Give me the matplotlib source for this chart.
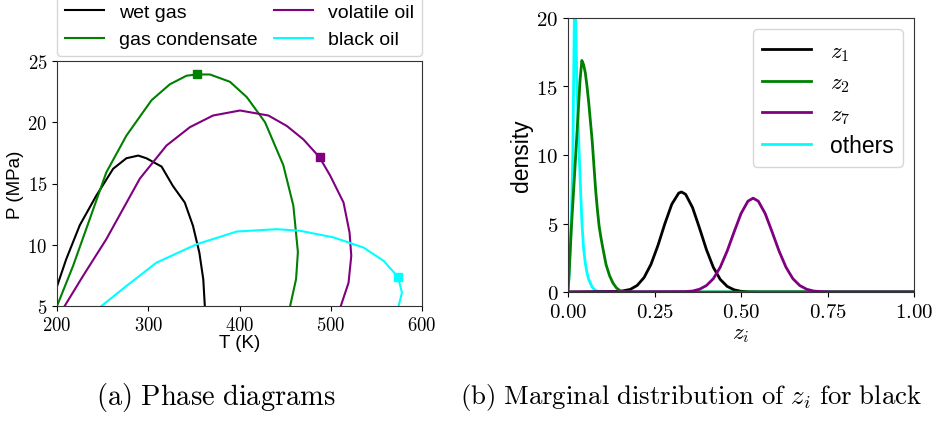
import matplotlib
matplotlib.use("Agg")
import matplotlib.pyplot as plt

plt.rcParams['mathtext.fontset'] = 'cm'
plt.rcParams['font.family'] = ['Liberation Sans', 'DejaVu Sans']

# ---------------- (a) phase diagrams ----------------
wet_T = [200, 210, 225, 243, 261.5, 276, 289, 298, 314.6, 327, 340, 349, 356, 360.3, 362]
wet_P = [6.6, 8.8, 11.6, 14.0, 16.2, 17.06, 17.28, 17.06, 16.38, 14.8, 13.45, 11.55, 9.36, 7.18, 5.0]

cond_T = [200, 217.6, 235.9, 254, 276, 303.6, 323.7, 342, 353, 367.6, 389.6, 408, 428, 448, 459, 464, 462, 455.5]
cond_P = [5.0, 8.27, 12.1, 15.9, 18.9, 21.8, 23.1, 23.8, 23.9, 23.9, 23.3, 22.05, 20.0, 16.5, 13.2, 9.4, 7.2, 5.0]

vol_T = [208.4, 228.5, 254, 290.8, 320, 345.7, 371, 400.6, 431.7, 451.8, 470, 487.7, 499.4, 514, 520.6, 522.5, 519.5, 511]
vol_P = [5.0, 7.45, 10.45, 15.4, 18.1, 19.6, 20.55, 20.96, 20.55, 19.7, 18.6, 17.14, 15.64, 13.45, 11.0, 9.1, 6.9, 5.0]

blk_T = [248.7, 276, 309, 353, 397, 440.8, 466.4, 503, 536, 558, 573.7, 578, 574.4]
blk_P = [5.0, 6.63, 8.54, 10.04, 11.08, 11.27, 11.14, 10.6, 9.77, 8.68, 7.37, 6.09, 5.0]

crit_T = [353, 487.7, 573.7]
crit_P = [23.9, 17.14, 7.37]
crit_colors = ['green', 'purple', 'cyan']

a_xticks = [200, 300, 400, 500, 600]
a_yticks = [5, 10, 15, 20, 25]

# ---------------- (b) marginal densities ----------------
z1_x = [0.0, 0.15, 0.18, 0.20, 0.22, 0.24, 0.26, 0.28, 0.30, 0.32, 0.328, 0.34, 0.36, 0.38, 0.40,
        0.42, 0.44, 0.46, 0.48, 0.50, 0.52, 0.55, 1.0]
z1_y = [0.0, 0.04, 0.19, 0.48, 1.06, 2.03, 3.40, 4.99, 6.41, 7.22, 7.3, 7.13, 6.16, 4.67, 3.10,
        1.80, 0.92, 0.41, 0.16, 0.05, 0.01, 0.0, 0.0]

z2_x = [0.0, 0.003, 0.006, 0.01, 0.015, 0.02, 0.025, 0.03, 0.035, 0.04, 0.045, 0.05, 0.055, 0.06,
        0.065, 0.07, 0.075, 0.08, 0.085, 0.09, 0.095, 0.10, 0.11, 0.12, 0.13, 0.14, 0.15, 0.16,
        0.18, 1.0]
z2_y = [0.0, 1.2, 2.8, 4.8, 6.9, 9.0, 11.2, 13.4, 15.5, 16.9, 16.6, 16.0, 15.0, 13.8,
        12.4, 11.0, 9.2, 7.4, 6.0, 4.8, 4.0, 3.3, 2.0, 1.2, 0.65, 0.3, 0.1, 0.03,
        0.0, 0.0]

z7_x = [0.0, 0.34, 0.36, 0.38, 0.40, 0.42, 0.44, 0.46, 0.48, 0.50, 0.52, 0.535, 0.55, 0.57, 0.59,
        0.61, 0.63, 0.65, 0.67, 0.69, 0.71, 0.73, 0.76, 1.0]
z7_y = [0.0, 0.03, 0.07, 0.20, 0.47, 0.97, 1.81, 2.99, 4.38, 5.72, 6.63, 6.85, 6.63, 5.72, 4.38,
        2.99, 1.81, 0.97, 0.47, 0.20, 0.07, 0.03, 0.0, 0.0]

oth_x = [0.0, 0.003, 0.006, 0.01, 0.014, 0.017, 0.02, 0.022, 0.025, 0.028, 0.031, 0.034, 0.037,
         0.04, 0.045, 0.05, 0.055, 0.06, 0.07, 0.08, 0.09, 0.10, 1.0]
oth_y = [0.0, 1.3, 3.0, 5.5, 10.0, 17.0, 24.0, 20.5, 16.0, 13.5, 11.0, 9.0, 7.0,
         5.2, 3.2, 2.1, 1.4, 0.9, 0.35, 0.1, 0.03, 0.0, 0.0]

b_xticks = [0.0, 0.25, 0.5, 0.75, 1.0]
b_yticks = [0, 5, 10, 15, 20]

fig = plt.figure(figsize=(9.36, 4.27), dpi=100)

# ---- panel (a)
ax1 = fig.add_axes([57/936, 1-307/427, 365/936, 245/427])
ax1.plot(wet_T, wet_P, color='black', lw=1.5, label='wet gas')
ax1.plot(cond_T, cond_P, color='green', lw=1.5, label='gas condensate')
ax1.plot(vol_T, vol_P, color='purple', lw=1.5, label='volatile oil')
ax1.plot(blk_T, blk_P, color='cyan', lw=1.5, label='black oil')
for t, p, c in zip(crit_T, crit_P, crit_colors):
    ax1.plot([t], [p], marker='s', color=c, ms=6, ls='none')
ax1.set_xlim(200, 600)
ax1.set_ylim(5, 25)
ax1.set_xticks(a_xticks, labels=[f'${v}$' for v in a_xticks], fontsize=13.5)
ax1.set_yticks(a_yticks, labels=[f'${v}$' for v in a_yticks], fontsize=13.5)
ax1.set_xlabel('T (K)', fontsize=13.5, labelpad=0)
ax1.set_ylabel('P (MPa)', fontsize=13.5, labelpad=2)
ax1.legend(loc='lower left', bbox_to_anchor=(0, 1.02, 1, 0.3), mode='expand', ncol=2,
           fontsize=14, borderaxespad=0, handlelength=2.0)
for s in ax1.spines.values():
    s.set_color('#333333')

# ---- panel (b)
ax2 = fig.add_axes([568/936, 1-293/427, 346/936, 274/427])
ax2.plot(z1_x, z1_y, color='black', lw=2, label='$z_1$')
ax2.plot(z2_x, z2_y, color='green', lw=2, label='$z_2$')
ax2.plot(z7_x, z7_y, color='purple', lw=2, label='$z_7$')
ax2.plot(oth_x, oth_y, color='cyan', lw=2, label='others', zorder=1.9)
ax2.set_xlim(0, 1)
ax2.set_ylim(0, 20)
ax2.set_xticks(b_xticks, labels=[f'${v:.2f}$' for v in b_xticks], fontsize=15)
ax2.set_yticks(b_yticks, labels=[f'${v}$' for v in b_yticks], fontsize=15)
ax2.set_xlabel('$z_i$', fontsize=16.5, labelpad=0)
ax2.set_ylabel('density', fontsize=16.5, labelpad=2)
ax2.legend(loc='upper right', fontsize=16.5, borderaxespad=0.5, handlelength=2.15,
           labelspacing=0.35)
for s in ax2.spines.values():
    s.set_color('#333333')

fig.text(216/936, 1-398/427, r'$\mathrm{(a)\ Phase\ diagrams}$', ha='center', va='center', fontsize=20.5)
fig.text(691/936, 1-398/427, r'$\mathrm{(b)\ Marginal\ distribution\ of\ }z_i\mathrm{\ for\ black}$',
         ha='center', va='center', fontsize=19.3)

fig.savefig('out.png', dpi=100)
